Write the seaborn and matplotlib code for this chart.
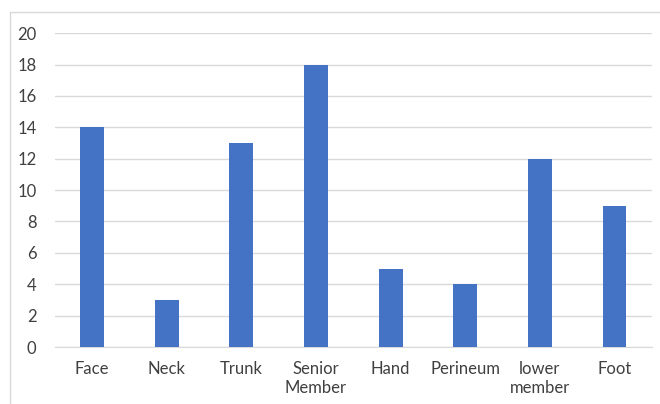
import numpy as np
import matplotlib.pyplot as plt
import pandas as pd
import seaborn as sns
from matplotlib.patches import Rectangle

categories = ['Face', 'Neck', 'Trunk', 'Senior\nMember', 'Hand', 'Perineum', 'lower\nmember', 'Foot']
counts = [14, 3, 13, 18, 5, 4, 12, 9]
yticks = list(range(0, 21, 2))

df = pd.DataFrame({'part': categories, 'count': counts})

sns.set_style('white')
plt.rcParams['font.family'] = ['Lato', 'DejaVu Sans']

fig = plt.figure(figsize=(6.6, 4.04), dpi=100)
ax = fig.add_axes([0.0827, 0.141, 0.905, 0.777])

sns.barplot(data=df, x='part', y='count', color='#4472C4', saturation=1,
            width=0.32, linewidth=0, ax=ax, zorder=3)

ax.set_ylim(0, 20)
ax.set_yticks(yticks)
ax.yaxis.grid(True, color='#d9d9d9', linewidth=1, zorder=0)
ax.set_axisbelow(True)
for s in ['top', 'right', 'left']:
    ax.spines[s].set_visible(False)
ax.spines['bottom'].set_color('#d9d9d9')
ax.tick_params(axis='both', length=0, labelsize=12, colors='#404040')
ax.tick_params(axis='y', pad=13)
ax.tick_params(axis='x', pad=10)
ax.set_xlabel('')
ax.set_ylabel('')
for lbl in ax.get_xticklabels():
    lbl.set_linespacing(1.2)

# chart border (cut off on the right and bottom like the original)
fig.patches.append(Rectangle((10 / 660, -0.1), 1.0, (404 - 12) / 404 + 0.1,
                             transform=fig.transFigure, fill=False,
                             edgecolor='#d9d9d9', linewidth=1))

fig.savefig('out.png', dpi=100)
